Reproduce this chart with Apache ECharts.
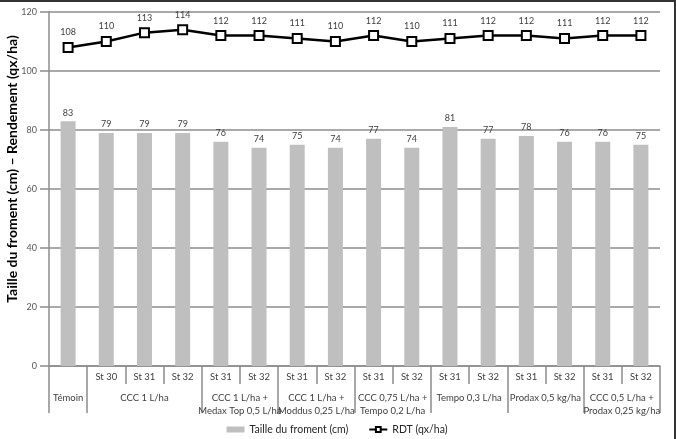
<!DOCTYPE html>
<html>
<head>
<meta charset="utf-8">
<script src="https://cdn.jsdelivr.net/npm/echarts@6/dist/echarts.min.js"></script>
<style>
  html, body { margin: 0; padding: 0; background: #fff; }
  #chart { width: 676px; height: 439px; box-sizing: border-box; border-top: 2px solid #333; border-right: 2px solid #333; }
</style>
</head>
<body>
<div id="chart"></div>
<script>
// stades (1re ligne de l'axe)
const stades = ["", "St 30", "St 31", "St 32", "St 31", "St 32", "St 31", "St 32",
  "St 31", "St 32", "St 31", "St 32", "St 31", "St 32", "St 31", "St 32"];
// traitements (2e ligne) : nombre de colonnes par groupe
const traitements = ["Témoin", "CCC 1 L/ha", "CCC 1 L/ha +\nMedax Top 0,5 L/ha",
  "CCC 1 L/ha +\nModdus 0,25 L/ha", "CCC 0,75 L/ha +\nTempo 0,2 L/ha",
  "Tempo 0,3 L/ha", "Prodax 0,5 kg/ha", "CCC 0,5 L/ha +\nProdax 0,25 kg/ha"];
const tailleGroupes = [1, 3, 2, 2, 2, 2, 2, 2];

const taille = [83, 79, 79, 79, 76, 74, 75, 74, 77, 74, 81, 77, 78, 76, 76, 75];
const rdt = [108, 110, 113, 114, 112, 112, 111, 110, 112, 110, 111, 112, 112, 111, 112, 112];

const yTicks = [0, 20, 40, 60, 80, 100, 120];

// limites et centres des groupes, en nombre de colonnes
const groupBounds = [0];
const groupCenters = [];
tailleGroupes.forEach((n) => {
  const start = groupBounds[groupBounds.length - 1];
  groupCenters.push(start + n / 2);
  groupBounds.push(start + n);
});

const font = "Lato, 'Liberation Sans', sans-serif";
const chart = echarts.init(document.getElementById("chart"));

chart.setOption({
  animation: false,
  textStyle: { fontFamily: font },
  grid: { left: 49, right: 14, top: 10, bottom: 73, containLabel: false, outerBoundsMode: "none" },
  legend: {
    top: 417,
    left: "center",
    itemWidth: 18,
    itemHeight: 6,
    itemGap: 20,
    textStyle: { fontSize: 10.5, color: "#262626", fontFamily: font },
    data: [
      { name: "Taille du froment (cm)", icon: "rect" },
      { name: "RDT (qx/ha)" }
    ]
  },
  xAxis: [
    {
      type: "category",
      data: stades,
      axisLine: { lineStyle: { color: "#8c8c8c", width: 1.5 } },
      axisTick: { show: true, interval: 0, length: 18, lineStyle: { color: "#8c8c8c", width: 1.5 } },
      axisLabel: { interval: 0, fontSize: 9.5, color: "#404040", margin: 6 }
    },
    {
      type: "value",
      position: "bottom",
      offset: 18,
      min: 0,
      max: stades.length,
      splitLine: { show: false },
      axisLine: { show: false },
      axisTick: {
        show: true,
        customValues: groupBounds,
        length: 29,
        lineStyle: { color: "#8c8c8c", width: 1.5 }
      },
      axisLabel: {
        customValues: groupCenters,
        formatter: (v) => traitements[groupCenters.indexOf(v)] || "",
        hideOverlap: false,
        showMinLabel: true,
        showMaxLabel: true,
        fontSize: 9.5,
        color: "#404040",
        lineHeight: 13,
        margin: 7
      }
    }
  ],
  yAxis: {
    type: "value",
    min: yTicks[0],
    max: yTicks[yTicks.length - 1],
    interval: 20,
    name: "Taille du froment (cm) – Rendement (qx/ha)",
    nameLocation: "middle",
    nameGap: 30,
    nameMoveOverlap: false,
    nameTextStyle: { fontSize: 14, fontWeight: "bold", color: "#000", padding: [0, 0, 0, 40] },
    axisLine: { show: true, lineStyle: { color: "#8c8c8c", width: 1.5 } },
    axisTick: { show: true, length: 9, lineStyle: { color: "#8c8c8c", width: 1.5 } },
    axisLabel: { fontSize: 9, color: "#595959", margin: 12 },
    splitLine: { lineStyle: { color: "#8c8c8c", width: 1.5 } }
  },
  series: [
    {
      name: "Taille du froment (cm)",
      type: "bar",
      data: taille,
      barWidth: 15,
      itemStyle: { color: "#bfbfbf" },
      label: { show: true, position: "top", distance: 4, fontSize: 9, color: "#404040" }
    },
    {
      name: "RDT (qx/ha)",
      type: "line",
      data: rdt,
      z: 5,
      symbol: "rect",
      symbolSize: 9,
      lineStyle: { color: "#000", width: 2.5 },
      itemStyle: { color: "#fff", borderColor: "#000", borderWidth: 2 },
      label: { show: true, position: "top", distance: 5, fontSize: 9, color: "#404040" }
    }
  ]
});

window.addEventListener("resize", () => chart.resize());
</script>
</body>
</html>
